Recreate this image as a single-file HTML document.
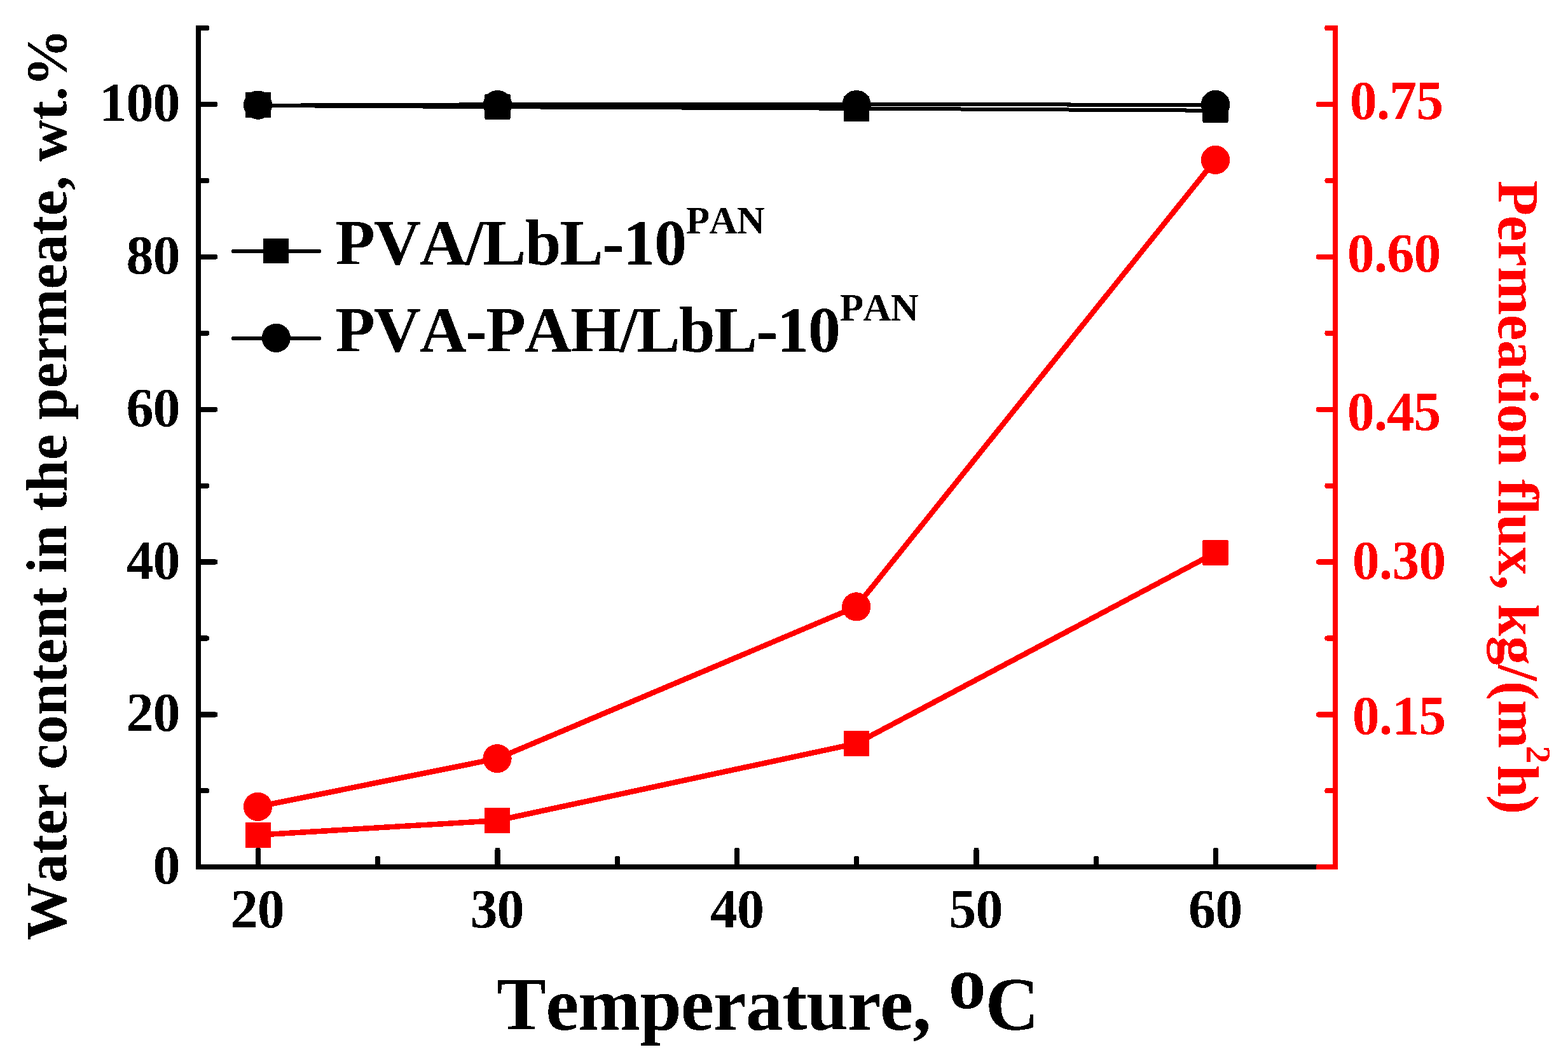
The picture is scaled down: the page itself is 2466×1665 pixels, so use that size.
<!DOCTYPE html>
<html lang="en">
<head>
<meta charset="utf-8">
<title>Water content in the permeate and permeation flux vs temperature</title>
<style>
html,body{margin:0;padding:0;background:#ffffff;}
body{width:2466px;height:1665px;}
svg{display:block;}
</style>
</head>
<body>
<svg width="2466" height="1665" viewBox="0 0 2466 1665" role="img" aria-label="Water content in the permeate and permeation flux versus temperature">
<rect x="0" y="0" width="2466" height="1665" fill="#ffffff"/>
<defs><filter id="crisp" x="0" y="0" width="2466" height="1665" filterUnits="userSpaceOnUse" color-interpolation-filters="sRGB"><feComponentTransfer><feFuncR type="discrete" tableValues="0 1"/><feFuncG type="discrete" tableValues="0 1"/><feFuncB type="discrete" tableValues="0 1"/><feFuncA type="discrete" tableValues="0 1"/></feComponentTransfer></filter></defs>
<g filter="url(#crisp)">
<g id="series">
<polyline points="406,165.9 782.5,168.2 1347,170.7 1911.5,173.7" fill="none" stroke="#000000" stroke-width="6" stroke-linejoin="round" stroke-linecap="butt"/>
<rect x="386" y="145" width="40" height="40" rx="1" fill="#000000"/>
<rect x="762.5" y="147.8" width="40" height="40" rx="1" fill="#000000"/>
<rect x="1327" y="150.9" width="40" height="40" rx="1" fill="#000000"/>
<rect x="1891.5" y="152.8" width="40" height="40" rx="1" fill="#000000"/>
<polyline points="406,165.65 782.5,164.2 1347,164.2 1911.5,164.8" fill="none" stroke="#000000" stroke-width="6" stroke-linejoin="round" stroke-linecap="butt"/>
<circle cx="405.5" cy="165.2" r="22.6" fill="#000000"/>
<circle cx="782.5" cy="164.5" r="22.6" fill="#000000"/>
<circle cx="1347" cy="164.5" r="22.6" fill="#000000"/>
<circle cx="1911.5" cy="164.4" r="22.6" fill="#000000"/>
<polyline points="406,1312.85 782,1290 1347,1168.8 1911.5,869" fill="none" stroke="#ff0000" stroke-width="8.5" stroke-linejoin="round" stroke-linecap="butt"/>
<rect x="386" y="1292.85" width="40" height="40" rx="1" fill="#ff0000"/>
<rect x="762" y="1270" width="40" height="40" rx="1" fill="#ff0000"/>
<rect x="1327" y="1148.8" width="40" height="40" rx="1" fill="#ff0000"/>
<rect x="1891.5" y="849" width="40" height="40" rx="1" fill="#ff0000"/>
<polyline points="405.5,1268.3 782,1192.6 1346.7,953.9 1911.5,251.4" fill="none" stroke="#ff0000" stroke-width="8.5" stroke-linejoin="round" stroke-linecap="butt"/>
<circle cx="405.5" cy="1268.3" r="22.6" fill="#ff0000"/>
<circle cx="782" cy="1192.6" r="22.6" fill="#ff0000"/>
<circle cx="1346.7" cy="953.9" r="22.6" fill="#ff0000"/>
<circle cx="1911.5" cy="251.4" r="22.6" fill="#ff0000"/>
</g>
<g id="axes">
<rect x="308" y="40" width="8" height="1327" rx="1.5" fill="#000000"/>
<rect x="308" y="1359" width="1796" height="8" rx="1.5" fill="#000000"/>
<rect x="308" y="1239.37" width="21.1" height="8" rx="3" fill="#000000"/>
<rect x="308" y="1119.44" width="34.2" height="8" rx="3" fill="#000000"/>
<rect x="308" y="999.51" width="21.1" height="8" rx="3" fill="#000000"/>
<rect x="308" y="879.58" width="34.2" height="8" rx="3" fill="#000000"/>
<rect x="308" y="759.65" width="21.1" height="8" rx="3" fill="#000000"/>
<rect x="308" y="639.72" width="34.2" height="8" rx="3" fill="#000000"/>
<rect x="308" y="519.79" width="21.1" height="8" rx="3" fill="#000000"/>
<rect x="308" y="399.86" width="34.2" height="8" rx="3" fill="#000000"/>
<rect x="308" y="279.93" width="21.1" height="8" rx="3" fill="#000000"/>
<rect x="308" y="160" width="34.2" height="8" rx="3" fill="#000000"/>
<rect x="308" y="40" width="21.1" height="8" rx="2" fill="#000000"/>
<rect x="402" y="1332.8" width="8" height="33.2" rx="3" fill="#000000"/>
<rect x="590.25" y="1345.8" width="8" height="20.2" rx="3" fill="#000000"/>
<rect x="778.5" y="1332.8" width="8" height="33.2" rx="3" fill="#000000"/>
<rect x="966.75" y="1345.8" width="8" height="20.2" rx="3" fill="#000000"/>
<rect x="1155" y="1332.8" width="8" height="33.2" rx="3" fill="#000000"/>
<rect x="1343.25" y="1345.8" width="8" height="20.2" rx="3" fill="#000000"/>
<rect x="1531.5" y="1332.8" width="8" height="33.2" rx="3" fill="#000000"/>
<rect x="1719.75" y="1345.8" width="8" height="20.2" rx="3" fill="#000000"/>
<rect x="1908" y="1332.8" width="8" height="33.2" rx="3" fill="#000000"/>
<rect x="2096" y="40" width="8" height="1327" rx="1.5" fill="#ff0000"/>
<rect x="2070" y="1359" width="34" height="8" rx="1.5" fill="#ff0000"/>
<rect x="2083.5" y="1239.37" width="20.5" height="8" rx="3" fill="#ff0000"/>
<rect x="2070" y="1119.44" width="34" height="8" rx="3" fill="#ff0000"/>
<rect x="2083.5" y="999.51" width="20.5" height="8" rx="3" fill="#ff0000"/>
<rect x="2070" y="879.58" width="34" height="8" rx="3" fill="#ff0000"/>
<rect x="2083.5" y="759.65" width="20.5" height="8" rx="3" fill="#ff0000"/>
<rect x="2070" y="639.72" width="34" height="8" rx="3" fill="#ff0000"/>
<rect x="2083.5" y="519.79" width="20.5" height="8" rx="3" fill="#ff0000"/>
<rect x="2070" y="399.86" width="34" height="8" rx="3" fill="#ff0000"/>
<rect x="2083.5" y="279.93" width="20.5" height="8" rx="3" fill="#ff0000"/>
<rect x="2070" y="160" width="34" height="8" rx="3" fill="#ff0000"/>
<rect x="2083.5" y="40" width="20.5" height="8" rx="2" fill="#ff0000"/>
</g>
<g id="labels" font-family='"Liberation Serif", serif' font-weight="bold" style="font-kerning:none;font-variant-ligatures:none">
<g font-size="86" fill="#000000" letter-spacing="-0.9">
<text x="240.48" y="1389.3">0</text>
<text x="198.38" y="1149.44">20</text>
<text x="198.38" y="909.58">40</text>
<text x="198.38" y="669.72">60</text>
<text x="198.38" y="429.86">80</text>
<text x="156.28" y="190">100</text>
<text x="362.78" y="1458.2">20</text>
<text x="739.47" y="1458.2">30</text>
<text x="1117" y="1458.2">40</text>
<text x="1492.37" y="1458.2">50</text>
<text x="1869.12" y="1458.2">60</text>
</g>
<g font-size="86" fill="#ff0000" letter-spacing="-1">
<text x="2122.72" y="187.1">0.75</text>
<text x="2118.72" y="427.1">0.60</text>
<text x="2118.72" y="676.3">0.45</text>
<text x="2126.72" y="910.3">0.30</text>
<text x="2126.72" y="1154.2">0.15</text>
</g>
<text x="780.8" y="1618.8" font-size="117.7" fill="#000000" letter-spacing="-1.12">Temperature, <tspan dy="-34.2">o</tspan><tspan dy="34.2">C</tspan></text>
<text transform="translate(104.3 1478.6) rotate(-90)" font-size="91" fill="#000000" letter-spacing="-0.28">Water content in the permeate, wt.%</text>
<text transform="translate(2357 283.5) rotate(90)" font-size="91" fill="#ff0000" letter-spacing="-0.21">Permeation flux, kg/(m<tspan font-size="54.6" dy="-44" dx="-3.3">2</tspan><tspan dy="44" dx="2.9">h</tspan><tspan dx="-3.5">)</tspan></text>
</g>
<g id="legend">
<rect x="364" y="391.9" width="141.2" height="6" rx="3" fill="#000000"/>
<rect x="414" y="375" width="40" height="39" rx="1" fill="#000000"/>
<rect x="364" y="528.8" width="141.2" height="6.1" rx="3" fill="#000000"/>
<circle cx="434.3" cy="531.3" r="22.6" fill="#000000"/>
<g font-family='"Liberation Serif", serif' font-weight="bold" font-size="102.4" fill="#000000" style="font-kerning:none;font-variant-ligatures:none">
<text x="527.14" y="416" letter-spacing="-1.77">PVA/LbL-10<tspan font-size="61.44" dy="-49" dx="0.5" letter-spacing="-1">PAN</tspan></text>
<text x="527.14" y="553" letter-spacing="-1.86">PVA-PAH/LbL-10<tspan font-size="61.44" dy="-49.5" dx="0.5" letter-spacing="-1">PAN</tspan></text>
</g></g>
</g>
</svg>
</body>
</html>
